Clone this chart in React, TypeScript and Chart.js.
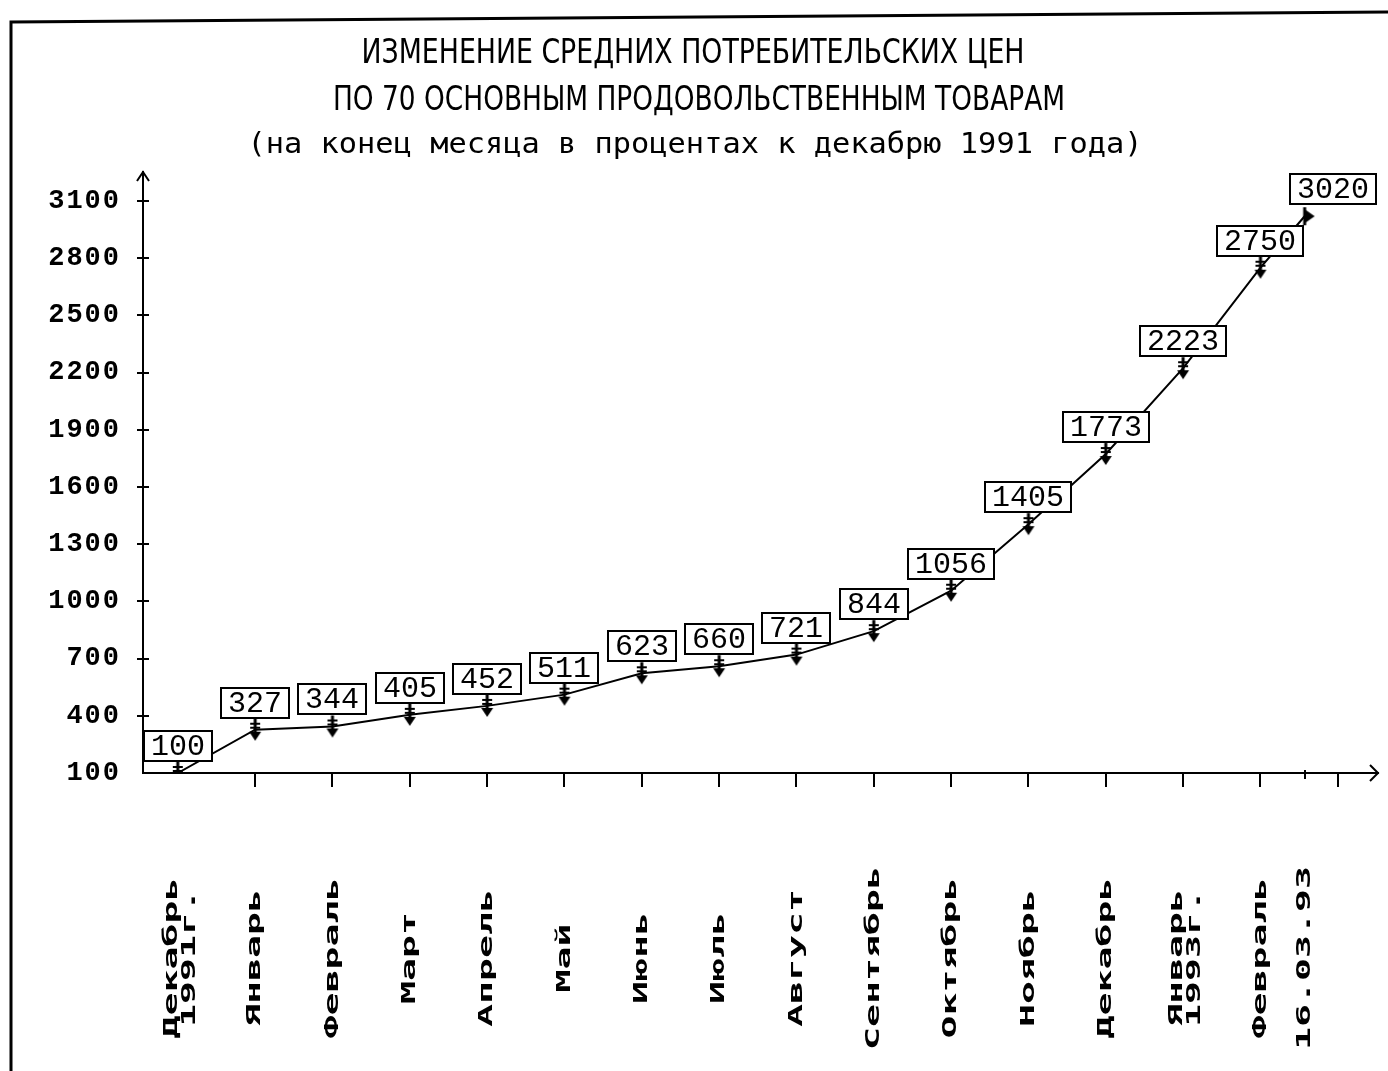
import React, { useEffect, useRef } from 'react';
import { Chart, registerables } from 'chart.js';

Chart.register(...registerables);

// ---- data ----
const categories: string[][] = [
  ['Декабрь', '1991г.'],
  ['Январь'],
  ['Февраль'],
  ['Март'],
  ['Апрель'],
  ['Май'],
  ['Июнь'],
  ['Июль'],
  ['Август'],
  ['Сентябрь'],
  ['Октябрь'],
  ['Ноябрь'],
  ['Декабрь'],
  ['Январь', '1993г.'],
  ['Февраль'],
  ['16.03.93'],
];
// month index from December 1991 (16 March 1993 = 16 days after end of February)
const monthPositions = [0, 1, 2, 3, 4, 5, 6, 7, 8, 9, 10, 11, 12, 13, 14, 14 + 16 / 28];
const values = [100, 327, 344, 405, 452, 511, 623, 660, 721, 844, 1056, 1405, 1773, 2223, 2750, 3020];
const yTicks = [100, 400, 700, 1000, 1300, 1600, 1900, 2200, 2500, 2800, 3100];
const xTickMarks = [1, 2, 3, 4, 5, 6, 7, 8, 9, 10, 11, 12, 13, 14, 15];
const titleLines = [
  'ИЗМЕНЕНИЕ СРЕДНИХ ПОТРЕБИТЕЛЬСКИХ ЦЕН',
  'ПО 70 ОСНОВНЫМ ПРОДОВОЛЬСТВЕННЫМ ТОВАРАМ',
  '(на конец месяца в процентах к декабрю 1991 года)',
];

function makeMarker(): HTMLCanvasElement {
  const c = document.createElement('canvas');
  c.width = 14;
  c.height = 24;
  const g = c.getContext('2d')!;
  g.strokeStyle = '#000';
  g.fillStyle = '#000';
  g.lineWidth = 3;
  g.beginPath();
  g.moveTo(7, 1);
  g.lineTo(7, 17);
  g.stroke();
  g.lineWidth = 2;
  g.beginPath();
  g.moveTo(2, 6);
  g.lineTo(12, 6);
  g.moveTo(2, 10);
  g.lineTo(12, 10);
  g.stroke();
  g.beginPath();
  g.moveTo(1, 14);
  g.lineTo(13, 14);
  g.lineTo(7, 23);
  g.closePath();
  g.fill();
  return c;
}

function makeEndMarker(): HTMLCanvasElement {
  const c = document.createElement('canvas');
  c.width = 24;
  c.height = 22;
  const g = c.getContext('2d')!;
  g.strokeStyle = '#000';
  g.fillStyle = '#000';
  g.lineWidth = 3;
  g.beginPath();
  g.moveTo(12, 2);
  g.lineTo(12, 20);
  g.stroke();
  g.beginPath();
  g.moveTo(12, 4);
  g.lineTo(22, 11);
  g.lineTo(12, 18);
  g.closePath();
  g.fill();
  return c;
}

function drawFitted(
  ctx: CanvasRenderingContext2D,
  text: string,
  cx: number,
  baseline: number,
  font: string,
  width: number
) {
  ctx.save();
  ctx.font = font;
  const m = ctx.measureText(text).width;
  ctx.translate(cx, baseline);
  ctx.scale(width / m, 1);
  ctx.textAlign = 'center';
  ctx.textBaseline = 'alphabetic';
  ctx.fillStyle = '#000';
  ctx.fillText(text, 0, 0);
  ctx.restore();
}

const decorPlugin = {
  id: 'decor',
  beforeDraw(chart: any) {
    const ctx = chart.ctx as CanvasRenderingContext2D;
    ctx.save();
    ctx.fillStyle = '#fff';
    ctx.fillRect(0, 0, chart.width, chart.height);
    ctx.strokeStyle = '#000';
    ctx.lineWidth = 3;
    ctx.beginPath();
    ctx.moveTo(11, 1071);
    ctx.lineTo(11, 22);
    ctx.lineTo(1388, 12);
    ctx.stroke();
    ctx.restore();
    (ctx as any).letterSpacing = '2px';
  },
  afterDatasetsDraw(chart: any) {
    const ctx = chart.ctx as CanvasRenderingContext2D;
    const meta = chart.getDatasetMeta(0);
    ctx.save();
    (ctx as any).letterSpacing = '0px';
    ctx.font = '30px "Liberation Mono", "DejaVu Sans Mono", monospace';
    meta.data.forEach((pt: any, i: number) => {
      const text = String(values[i]);
      const w = text.length * 18 + 14;
      const h = 30;
      let cx = pt.x;
      if (i === values.length - 1) cx += 28;
      const bottom = pt.y - 12;
      const left = Math.round(cx - w / 2);
      const top = Math.round(bottom - h);
      ctx.fillStyle = '#fff';
      ctx.fillRect(left, top, w, h);
      ctx.strokeStyle = '#000';
      ctx.lineWidth = 2;
      ctx.strokeRect(left, top, w, h);
      ctx.fillStyle = '#000';
      ctx.textAlign = 'center';
      ctx.textBaseline = 'alphabetic';
      ctx.fillText(text, left + w / 2, top + h - 6);
    });
    ctx.restore();
  },
  afterDraw(chart: any) {
    const ctx = chart.ctx as CanvasRenderingContext2D;
    (ctx as any).letterSpacing = '0px';
    const xs = chart.scales.x;
    const ys = chart.scales.y;
    const area = chart.chartArea;

    // title
    drawFitted(ctx, titleLines[0], 693, 63, '34px "DejaVu Sans", sans-serif', 663);
    drawFitted(ctx, titleLines[1], 699, 110, '34px "DejaVu Sans", sans-serif', 732);
    drawFitted(ctx, titleLines[2], 695, 153, '29px "DejaVu Sans Mono", monospace', 895);

    ctx.save();
    ctx.strokeStyle = '#000';
    ctx.lineWidth = 2;
    // y tick crosses
    yTicks.forEach((v) => {
      const y = Math.round(ys.getPixelForValue(v));
      if (v === yTicks[0]) return;
      ctx.beginPath();
      ctx.moveTo(area.left - 6, y);
      ctx.lineTo(area.left + 6, y);
      ctx.stroke();
    });
    // arrows
    ctx.beginPath();
    ctx.moveTo(area.left - 6, area.top + 9);
    ctx.lineTo(area.left, area.top);
    ctx.lineTo(area.left + 6, area.top + 9);
    ctx.stroke();
    ctx.beginPath();
    ctx.moveTo(area.right - 8, area.bottom - 8);
    ctx.lineTo(area.right, area.bottom);
    ctx.lineTo(area.right - 8, area.bottom + 8);
    ctx.stroke();
    // small mark for 16.03.93
    const xm = Math.round(xs.getPixelForValue(monthPositions[monthPositions.length - 1]));
    ctx.beginPath();
    ctx.moveTo(xm, area.bottom - 3);
    ctx.lineTo(xm, area.bottom + 6);
    ctx.stroke();
    ctx.restore();

    // x labels, rotated, centred vertically
    ctx.save();
    ctx.fillStyle = '#000';
    ctx.font = 'bold 20px "DejaVu Sans Mono", monospace';
    const pitch = 23;
    const adv = ctx.measureText('0').width;
    const sx = pitch / adv;
    categories.forEach((lines, i) => {
      const x = xs.getPixelForValue(monthPositions[i]);
      const n = lines.length;
      const gap = 18;
      const cx = x + (n > 1 ? 3 : 0);
      lines.forEach((line, j) => {
        ctx.save();
        ctx.translate(cx + (j - (n - 1) / 2) * gap, 958);
        ctx.rotate(-Math.PI / 2);
        ctx.scale(sx, 1);
        ctx.textAlign = 'center';
        ctx.textBaseline = 'middle';
        ctx.fillText(line, 0, 0);
        ctx.restore();
      });
    });
    ctx.restore();
  },
};

export default function App() {
  const ref = useRef<HTMLCanvasElement | null>(null);

  useEffect(() => {
    if (!ref.current) return;
    const marker = makeMarker();
    const endMarker = makeEndMarker();
    const chart = new Chart(ref.current, {
      type: 'line',
      data: {
        datasets: [
          {
            data: values.map((v, i) => ({ x: monthPositions[i], y: v })),
            borderColor: '#000',
            borderWidth: 2,
            tension: 0,
            fill: false,
            pointStyle: values.map((_, i) => (i === values.length - 1 ? endMarker : marker)) as any,
            pointRadius: 8,
          },
        ],
      },
      options: {
        animation: false,
        responsive: true,
        maintainAspectRatio: false,
        layout: { padding: { top: 172, right: 3, left: 0, bottom: 0 } },
        plugins: {
          legend: { display: false },
          title: { display: false },
          tooltip: { enabled: false },
        },
        scales: {
          x: {
            type: 'linear',
            min: -0.45,
            max: 15.52,
            afterFit: (s: any) => {
              s.height = 298;
            },
            afterBuildTicks: (s: any) => {
              s.ticks = xTickMarks.map((v) => ({ value: v }));
            },
            ticks: { display: false },
            grid: {
              display: true,
              drawOnChartArea: false,
              drawTicks: true,
              tickLength: 14,
              color: '#000',
              lineWidth: 2,
            },
            border: { display: true, color: '#000', width: 2 },
          },
          y: {
            type: 'linear',
            min: 100,
            max: 3252,
            afterFit: (s: any) => {
              s.width = 143;
            },
            afterBuildTicks: (s: any) => {
              s.ticks = yTicks.map((v) => ({ value: v }));
            },
            ticks: {
              color: '#000',
              padding: 22,
              autoSkip: false,
              callback: (v: any) => String(v),
              font: { family: '"Liberation Mono", "DejaVu Sans Mono", monospace', size: 27, weight: 'bold' },
            },
            grid: { display: true, drawOnChartArea: false, drawTicks: false, color: '#000' },
            border: { display: true, color: '#000', width: 2 },
          },
        },
      },
      plugins: [decorPlugin],
    });
    return () => chart.destroy();
  }, []);

  return (
    <div style={{ position: 'fixed', left: 0, top: 0, width: 1388, height: 1071, background: '#fff' }}>
      <canvas ref={ref} />
    </div>
  );
}
